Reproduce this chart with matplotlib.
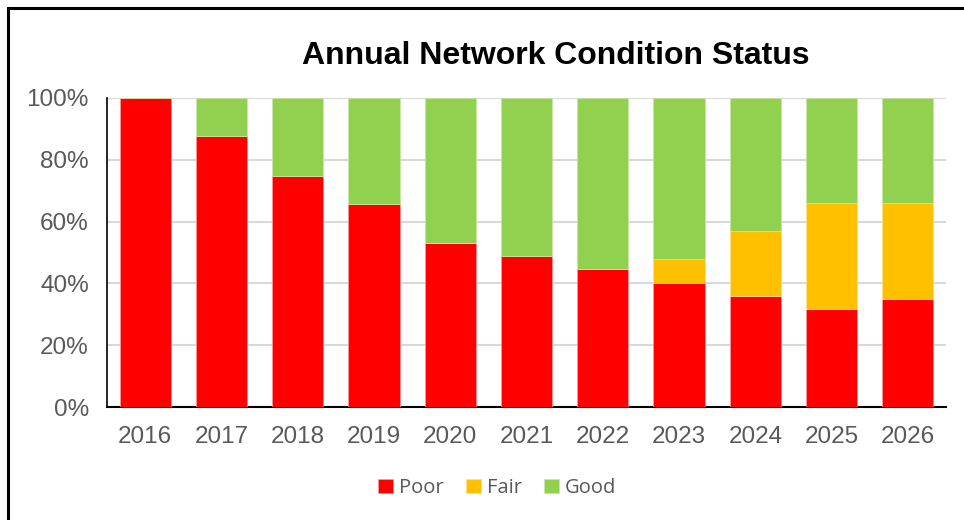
import matplotlib
matplotlib.use("Agg")
import matplotlib.pyplot as plt
from matplotlib.patches import Rectangle
from matplotlib.ticker import FuncFormatter
import numpy as np

years = ["2016", "2017", "2018", "2019", "2020", "2021", "2022", "2023", "2024", "2025", "2026"]
poor = [100.0, 87.7, 74.8, 65.7, 53.1, 48.9, 44.7, 40.1, 35.9, 31.7, 35.0]
fair = [0.0, 0.0, 0.0, 0.0, 0.0, 0.0, 0.0, 7.8, 21.1, 34.3, 31.0]
good = [100 - p - f for p, f in zip(poor, fair)]
yticks = [0, 20, 40, 60, 80, 100]

fig = plt.figure(figsize=(9.64, 5.2), dpi=100)
ax = fig.add_axes([107/964, 1 - 407/520, (946-107)/964, (407-98)/520])

x = np.arange(len(years))
w = 0.67
ax.bar(x, poor, w, color="#FF0000", label="Poor", zorder=3, edgecolor="#ff9999", linewidth=0.5)
ax.bar(x, fair, w, bottom=poor, color="#FFC000", label="Fair", zorder=3, edgecolor="#ffe08a", linewidth=0.5)
ax.bar(x, good, w, bottom=[p + f for p, f in zip(poor, fair)], color="#92D050", label="Good", zorder=3,
       edgecolor="#c8e8a8", linewidth=0.5)

ax.set_xlim(-0.5, len(years) - 0.5)
ax.set_ylim(0, 100)
ax.set_yticks(yticks)
ax.yaxis.set_major_formatter(FuncFormatter(lambda v, p: f"{int(v)}%"))
ax.set_xticks(x)
ax.set_xticklabels(years)
ax.grid(axis="y", color="#d9d9d9", linewidth=1.5, zorder=0)
ax.tick_params(axis="both", length=0, labelsize=17.5, colors="#595959", labelfontfamily="Liberation Sans")
ax.tick_params(axis="x", pad=14)
ax.tick_params(axis="y", pad=13)
for s in ["top", "right"]:
    ax.spines[s].set_visible(False)
ax.spines["left"].set_color("black")
ax.spines["bottom"].set_color("black")
ax.spines["left"].set_linewidth(1.2)
ax.spines["bottom"].set_linewidth(1.5)

fig.text(556/964, 1 - 56/520, "Annual Network Condition Status", ha="center", va="center",
         fontsize=23, fontweight="bold", family="Liberation Sans", color="black")

handles, labels = ax.get_legend_handles_labels()
leg = fig.legend(handles, labels, loc="center", bbox_to_anchor=(497/964, 1 - 488/520), ncol=3,
                 frameon=False, handlelength=0.75, handleheight=0.75, handletextpad=0.3,
                 columnspacing=1.1, prop={"family": "Open Sans", "size": 14.5})
for t in leg.get_texts():
    t.set_color("#595959")

fig.patches.append(Rectangle((8/964, -0.1), 1.2, 1 - 8/520 + 0.1, transform=fig.transFigure,
                             fill=False, edgecolor="black", linewidth=2.2))

fig.savefig("out.png", dpi=100)
